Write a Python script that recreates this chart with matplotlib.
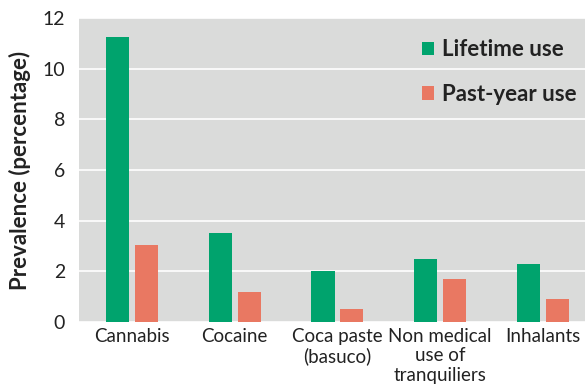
import matplotlib.pyplot as plt
import numpy as np

categories = ["Cannabis", "Cocaine", "Coca paste\n(basuco)",
              "Non medical\nuse of\ntranquiliers", "Inhalants"]
lifetime = [11.25, 3.5, 2.0, 2.5, 2.3]
past_year = [3.05, 1.2, 0.5, 1.7, 0.9]

green = "#00a36d"
salmon = "#e97862"
bg = "#dadbda"

plt.rcParams['font.family'] = ['Lato', 'DejaVu Sans']

fig = plt.figure(figsize=(5.85, 3.89), dpi=100)
ax = fig.add_axes([0.135, 0.172, 0.865, 0.782])
ax.set_facecolor(bg)

x = np.arange(len(categories))
w = 0.225
off = 0.141
ax.bar(x - off, lifetime, w, color=green, label="Lifetime use", zorder=3)
ax.bar(x + off, past_year, w, color=salmon, label="Past-year use", zorder=3)

ax.set_ylim(0, 12)
ax.set_xlim(-0.516, 4.41)
ax.set_yticks(range(0, 13, 2))
ax.yaxis.grid(True, color="white", linewidth=1.2, zorder=0)
ax.set_xticks(x)
ax.set_xticklabels(categories, fontsize=13.5, color="#222222", linespacing=1.2)
ax.tick_params(axis="both", length=0, colors="#222222")
ax.tick_params(axis="y", pad=10, labelsize=14)
ax.tick_params(axis="x", pad=4)
for s in ax.spines.values():
    s.set_visible(False)

ax.set_ylabel("Prevalence (percentage)", fontsize=16, fontweight="bold",
              color="#222222", labelpad=8)

leg = ax.legend(loc="upper right", bbox_to_anchor=(1.022, 0.995), frameon=False,
                prop={"weight": "bold", "size": 16}, labelspacing=1.05,
                handlelength=0.55, handleheight=0.55, handletextpad=0.35)
for t in leg.get_texts():
    t.set_color("#222222")

fig.savefig("out.png", dpi=100)
